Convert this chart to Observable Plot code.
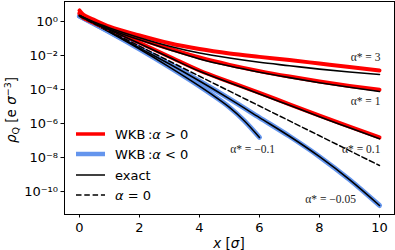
<!DOCTYPE html>
<html><head><meta charset="utf-8">
<script src="https://cdn.jsdelivr.net/npm/d3@7"></script>
<script src="https://cdn.jsdelivr.net/npm/@observablehq/plot@0.6"></script>
<style>body{margin:0;background:#fff} #chart{position:relative;width:395px;height:250px}</style>
</head><body><div id="chart"></div>
<script>
// ---- data (y values stored as log10 of rho_Q) ----
const xTicks = [0, 2, 4, 6, 8, 10];
const yTicks = [1, 1e-2, 1e-4, 1e-6, 1e-8, 1e-10];
const yTickLabels = ["10⁰", "10⁻²", "10⁻⁴", "10⁻⁶", "10⁻⁸", "10⁻¹⁰"];

const xWkbPos = [0, 0.1, 0.25, 0.5, 1, 2, 3, 4, 5, 6, 7, 8, 9, 10];
const wkbA3  = [0.65, 0.45, 0.28, 0.08, -0.3, -0.82, -1.28, -1.62, -1.88, -2.08, -2.27, -2.47, -2.67, -2.88];
const wkbA1  = [0.5, 0.3, 0.15, -0.05, -0.4, -1.02, -1.6, -2.12, -2.55, -2.92, -3.24, -3.53, -3.79, -4.02];
const wkbA01 = [0.45, 0.25, 0.1, -0.1, -0.45, -1.25, -2.07, -2.88, -3.55, -4.2, -4.87, -5.53, -6.18, -6.82];

const xExactPos = [0, 0.5, 1, 2, 3, 4, 5, 6, 7, 8, 9, 10];
const exactA3  = [0.35, -0.05, -0.38, -0.95, -1.45, -1.85, -2.15, -2.4, -2.6, -2.8, -2.97, -3.12];
const exactA1  = [0.35, -0.1, -0.45, -1.08, -1.66, -2.2, -2.62, -2.98, -3.3, -3.6, -3.87, -4.12];
const exactA01 = [0.35, -0.12, -0.5, -1.3, -2.12, -2.93, -3.6, -4.26, -4.93, -5.6, -6.25, -6.9];

const xNeg005 = [0, 1, 2, 3, 4, 5, 6, 7, 8, 9, 10];
const negA005 = [0.32, -0.6, -1.55, -2.5, -3.5, -4.55, -5.65, -6.75, -7.95, -9.3, -10.82];
const xNeg01 = [0, 1, 2, 3, 4, 4.5, 5, 5.5, 6];
const negA01 = [0.32, -0.62, -1.62, -2.68, -3.8, -4.4, -5.05, -5.85, -6.82];

const xZero = [0, 2, 4, 6, 8, 10];
const zeroA = [0.3, -1.45, -3.22, -4.97, -6.72, -8.47];

const annotText = ["α* = 3", "α* = 1", "α* = 0.1", "α* = −0.1", "α* = −0.05"];
const annotX = [10.03, 10.03, 10.03, 5.77, 8.37];
const annotLogY = [-2.12, -4.7, -7.53, -7.53, -10.47];
const annotAnchor = ["end", "end", "end", "middle", "middle"];

const legendLabels = ["WKB:α > 0", "WKB:α < 0", "exact", "α = 0"];

// ---- tables ----
const rows = (name, xs, ls) => xs.map((x, i) => ({s: name, x, y: Math.pow(10, ls[i])}));
const redRows = [...rows("a3", xWkbPos, wkbA3), ...rows("a1", xWkbPos, wkbA1), ...rows("a01", xWkbPos, wkbA01)];
const exactPosRows = [...rows("a3", xExactPos, exactA3), ...rows("a1", xExactPos, exactA1), ...rows("a01", xExactPos, exactA01)];
const blueRows = [...rows("n005", xNeg005, negA005), ...rows("n01", xNeg01, negA01)];
const zeroRows = rows("z", xZero, zeroA);
const annots = annotText.map((t, i) => ({t, x: annotX[i], y: Math.pow(10, annotLogY[i]), a: annotAnchor[i]}));

const curve = "monotone-x";
const plot = Plot.plot({
  width: 395, height: 250,
  marginLeft: 64, marginRight: 1, marginTop: 1, marginBottom: 36,
  style: {fontFamily: "DejaVu Sans", fontSize: "13px", color: "black", background: "white"},
  x: {domain: [-0.5, 10.5]},
  y: {type: "log", domain: [Math.pow(10, -11.35), Math.pow(10, 1.176)]},
  marks: [
    Plot.line(blueRows, {x: "x", y: "y", z: "s", stroke: "#6495ed", strokeWidth: 5, curve}),
    Plot.line(blueRows, {x: "x", y: "y", z: "s", stroke: "black", strokeWidth: 1.6, curve}),
    Plot.line(redRows, {x: "x", y: "y", z: "s", stroke: "#ff0000", strokeWidth: 4, curve}),
    Plot.line(exactPosRows, {x: "x", y: "y", z: "s", stroke: "black", strokeWidth: 1.6, curve}),
    Plot.line(zeroRows, {x: "x", y: "y", stroke: "black", strokeWidth: 1.5, strokeDasharray: "5.5,2.8", curve}),
    Plot.text(annots.filter(d => d.a === "end"), {x: "x", y: "y", text: "t", textAnchor: "end", fontFamily: "Liberation Serif", fontSize: 11.5, fill: "#222", ariaLabel: "annot"}),
    Plot.text(annots.filter(d => d.a === "middle"), {x: "x", y: "y", text: "t", textAnchor: "middle", fontFamily: "Liberation Serif", fontSize: 11.5, fill: "#222", ariaLabel: "annot"}),
    Plot.axisX({ticks: xTicks, tickSize: 3.5, tickPadding: 5, label: null, fontSize: 13}),
    Plot.axisY({ticks: yTicks, tickFormat: d => yTickLabels[yTicks.indexOf(d)], tickSize: 3.5, tickPadding: 3, label: null, fontSize: 13}),
    Plot.frame({stroke: "black", strokeWidth: 1})
  ]
});
document.getElementById("chart").appendChild(plot);

const svg = d3.select(plot);
// annotation labels: italic alpha, superscript star, white box behind
svg.selectAll('g[aria-label="annot"] text').each(function() {
  const t = this.textContent;
  const el = d3.select(this);
  el.text(null);
  el.append("tspan").attr("font-style", "italic").text("α");
  el.append("tspan").attr("font-size", 8).attr("dy", -4).text("*");
  el.append("tspan").attr("dy", 4).text(t.slice(2));
  const b = this.getBBox();
  d3.select(this.parentNode).insert("rect", () => this)
    .attr("x", b.x - 1).attr("y", b.y).attr("width", b.width + 2).attr("height", b.height)
    .attr("fill", "white").attr("stroke", "none");
});

// axis labels
const xl = svg.append("text").attr("x", 229).attr("y", 248).attr("text-anchor", "middle")
  .attr("font-family", "DejaVu Sans").attr("font-size", 13.5).attr("fill", "black");
xl.append("tspan").attr("font-style", "italic").text("x");
xl.append("tspan").text(" [");
xl.append("tspan").attr("font-style", "italic").text("σ");
xl.append("tspan").text("]");

const yl = svg.append("text").attr("transform", "translate(16,110) rotate(-90)").attr("text-anchor", "middle")
  .attr("font-family", "DejaVu Sans").attr("font-size", 13.5).attr("fill", "black");
yl.append("tspan").attr("font-style", "italic").text("ρ");
yl.append("tspan").attr("font-size", 9.5).attr("dy", 3).text("Q");
yl.append("tspan").attr("dy", -3).text(" [e ");
yl.append("tspan").attr("font-style", "italic").text("σ");
yl.append("tspan").attr("font-size", 9.5).attr("dy", -5).text("−3");
yl.append("tspan").attr("dy", 5).text("]");

// legend
const leg = svg.append("g").attr("font-family", "DejaVu Sans").attr("font-size", 13)
  .attr("fill", "black").attr("text-anchor", "start");
const legY = [134, 154, 175, 195];
const legStyle = [
  {stroke: "#ff0000", w: 3.5, dash: null},
  {stroke: "#6495ed", w: 4.5, dash: null},
  {stroke: "black", w: 1.5, dash: null},
  {stroke: "black", w: 1.5, dash: "5.5,2.8"}
];
legendLabels.forEach((lab, i) => {
  const s = legStyle[i];
  leg.append("line").attr("x1", 76).attr("x2", 105).attr("y1", legY[i]).attr("y2", legY[i])
    .attr("stroke", s.stroke).attr("stroke-width", s.w).attr("stroke-dasharray", s.dash);
  const t = leg.append("text").attr("x", 115).attr("y", legY[i] + 5).attr("text-anchor", "start");
  if (lab.startsWith("WKB")) {
    t.append("tspan").text("WKB\u2009:");
    t.append("tspan").attr("font-style", "italic").text("α");
    t.append("tspan").text(lab.slice(5));
  } else if (lab.startsWith("α")) {
    t.append("tspan").attr("font-style", "italic").text("α");
    t.append("tspan").text(lab.slice(1));
  } else {
    t.text(lab);
  }
});
</script></body></html>
